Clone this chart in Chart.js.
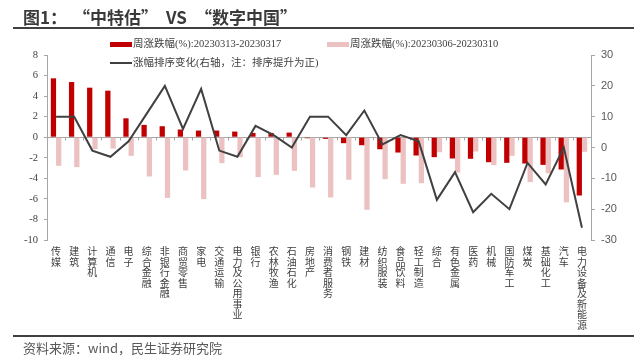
<!DOCTYPE html>
<html>
<head>
<meta charset="utf-8">
<script src="https://cdn.jsdelivr.net/npm/chart.js@4"></script>
<style>
  body { margin: 0; background: #fff; }
  #wrap { position: relative; width: 640px; height: 364px; overflow: hidden; font-family: "Noto Sans CJK SC", sans-serif; }
  #chart { position: absolute; left: 0; top: 0; }
  .title { position: absolute; left: 23px; top: 4px; font-size: 17px; font-weight: bold; color: #3a3a3a; white-space: nowrap; }
  .title span { display: inline-block; }
  .rule { position: absolute; left: 13px; right: 6px; height: 2px; background: #404040; }
  .source { position: absolute; left: 23px; top: 338px; font-size: 13px; color: #595959; white-space: nowrap; }
  .lg { position: absolute; font-size: 10.5px; color: #404040; white-space: nowrap; font-family: "Liberation Serif", "Noto Sans CJK SC", serif; line-height: 12px; }
  .sw { position: absolute; }
</style>
</head>
<body>
<div id="wrap">
  <canvas id="chart" width="640" height="364"></canvas>
  <div class="title"><span>图1：</span><span style="margin-left:6px">“中特估”</span><span style="margin-left:8px">VS</span><span style="margin-left:8px">“数字中国”</span></div>
  <div class="rule" style="top:27px"></div>
  <div class="sw" style="left:110px;top:42px;width:22px;height:5px;background:#C00000"></div>
  <div class="lg" style="left:133px;top:38px">周涨跌幅(%):20230313-20230317</div>
  <div class="sw" style="left:327px;top:42px;width:22px;height:5px;background:#EBC1C1"></div>
  <div class="lg" style="left:350px;top:38px">周涨跌幅(%):20230306-20230310</div>
  <div class="sw" style="left:110px;top:62px;width:22px;height:2px;background:#404040"></div>
  <div class="lg" style="left:133px;top:57px">涨幅排序变化(右轴，注：排序提升为正)</div>
  <div class="rule" style="top:335px"></div>
  <div class="source">资料来源：wind，民生证券研究院</div>
</div>
<script>
// industries
const industries = ["传媒", "建筑", "计算机", "通信", "电子", "综合金融", "非银行金融", "商贸零售", "家电", "交通运输",
    "电力及公用事业", "银行", "农林牧渔", "石油石化", "房地产", "消费者服务", "钢铁", "建材", "纺织服装", "食品饮料",
    "轻工制造", "综合", "有色金属", "医药", "机械", "国防军工", "煤炭", "基础化工", "汽车", "电力设备及新能源"];

// weekly change (%), 2023-03-13 to 2023-03-17
const weekNow = [5.73, 5.37, 4.82, 4.53, 1.84, 1.2, 1.07, 0.75, 0.65, 0.65,
    0.55, 0.42, 0.42, 0.45, -0.1, -0.16, -0.58, -0.78, -1.17, -1.49,
    -1.78, -1.94, -2.07, -2.1, -2.43, -2.49, -2.56, -2.69, -3.14, -5.67];

// weekly change (%), 2023-03-06 to 2023-03-10
const weekPrev = [-2.78, -2.91, -1.17, -1.1, -1.81, -3.82, -5.9, -3.24, -6.02, -2.52,
    -1.94, -3.88, -3.66, -3.27, -4.89, -5.86, -4.14, -7.06, -4.08, -4.53,
    -4.47, -1.46, -3.43, -1.39, -2.72, -1.81, -4.37, -3.5, -6.34, -1.42];

// rank change (right axis)
const rankChange = [10, 10, -1, -3, 2, 11, 20, 6, 19, -1,
    -3, 7, 4, 0, 10, 10, 4, 12, 1, 4,
    2, -17, -8, -21, -15, -20, -5, -12, 0, -26];

// vertical labels: one character per line
const labels = industries.map(s => Array.from(s));

// zero line with small ticks between categories
const zeroLine = {
    id: "zeroLine",
    beforeDatasetsDraw(chart) {
        const { ctx, chartArea, scales } = chart;
        const y0 = Math.round(scales.y.getPixelForValue(0)) + 0.5;
        const step = (chartArea.right - chartArea.left) / industries.length;
        ctx.save();
        ctx.strokeStyle = "#a6a6a6";
        ctx.lineWidth = 1;
        ctx.beginPath();
        ctx.moveTo(chartArea.left, y0);
        ctx.lineTo(chartArea.right, y0);
        for (let i = 1; i < industries.length; i++) {
            const x = Math.round(scales.x.getPixelForValue(i) - step / 2) + 0.5;
            ctx.moveTo(x, y0);
            ctx.lineTo(x, y0 + 3);
        }
        ctx.stroke();
        ctx.restore();
    }
};

new Chart(document.getElementById("chart"), {
    data: {
        labels: labels,
        datasets: [
            {
                type: "line",
                label: "涨幅排序变化",
                data: rankChange,
                yAxisID: "y1",
                borderColor: "#404040",
                borderWidth: 2,
                pointRadius: 0,
                tension: 0,
                order: 0
            },
            {
                type: "bar",
                label: "周涨跌幅(%):20230313-20230317",
                data: weekNow,
                yAxisID: "y",
                backgroundColor: "#C00000",
                barPercentage: 1,
                categoryPercentage: 0.58,
                order: 1
            },
            {
                type: "bar",
                label: "周涨跌幅(%):20230306-20230310",
                data: weekPrev,
                yAxisID: "y",
                backgroundColor: "#EBC1C1",
                barPercentage: 1,
                categoryPercentage: 0.58,
                order: 1
            }
        ]
    },
    options: {
        responsive: false,
        animation: false,
        layout: { padding: { top: 55, left: 0, right: 0, bottom: 0 } },
        plugins: { legend: { display: false }, tooltip: { enabled: false } },
        scales: {
            x: {
                grid: { display: false, drawTicks: false },
                border: { display: false },
                ticks: {
                    autoSkip: false,
                    maxRotation: 0,
                    minRotation: 0,
                    padding: 6,
                    color: "#404040",
                    font: { family: "Noto Sans CJK SC", size: 10, lineHeight: 1.05 }
                },
                afterFit: s => { s.height = 124; }
            },
            y: {
                position: "left",
                min: -10,
                max: 8,
                ticks: {
                    stepSize: 2,
                    padding: 6,
                    color: "#404040",
                    font: { family: "Liberation Serif", size: 10.5 }
                },
                grid: { drawOnChartArea: false, tickLength: 3, color: "#a6a6a6" },
                border: { color: "#a6a6a6" },
                afterFit: s => { s.width = 47; }
            },
            y1: {
                position: "right",
                min: -30,
                max: 30,
                ticks: {
                    stepSize: 10,
                    padding: 6,
                    color: "#595959",
                    font: { family: "Liberation Sans", size: 11 }
                },
                grid: { drawOnChartArea: false, tickLength: 4, color: "#a6a6a6" },
                border: { color: "#a6a6a6" },
                afterFit: s => { s.width = 49; }
            }
        }
    },
    plugins: [zeroLine]
});
</script>
</body>
</html>
